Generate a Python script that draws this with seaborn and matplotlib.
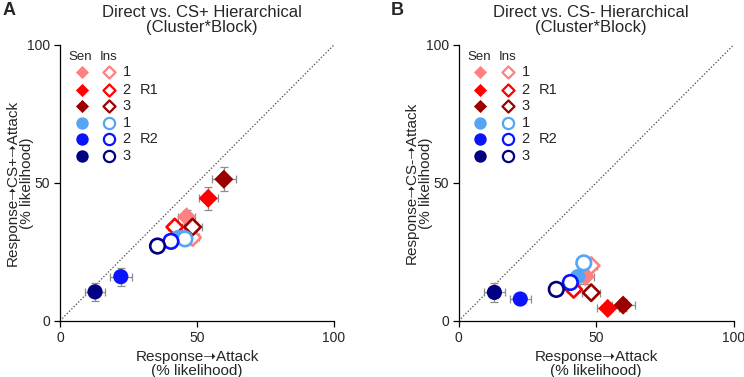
import numpy as np
import pandas as pd
import matplotlib
matplotlib.use("Agg")
import matplotlib.pyplot as plt
import seaborn as sns

sns.set_style("ticks")
plt.rcParams['font.family'] = ['Liberation Sans', 'DejaVu Sans']

# ---------------- data ----------------
blocks = ["1", "2", "3"]
r1_colors = ["#FF8080", "#FF0000", "#9A0000"]
r2_colors = ["#55A5F5", "#0A14FF", "#000080"]

# Panel A: Direct (x) vs CS+ hierarchical (y)
A_r1_sen_x = [46.2, 54.1, 59.8]; A_r1_sen_y = [37.7, 44.4, 51.3]
A_r1_sen_xe = [3.2, 3.5, 4.3];   A_r1_sen_ye = [2.6, 4.1, 4.4]
A_r1_ins_x = [48.4, 41.9, 48.4]; A_r1_ins_y = [30.2, 34.0, 34.0]
A_r1_ins_xe = [2.5, 2.5, 3.3];   A_r1_ins_ye = [1.5, 1.7, 1.7]
A_r2_sen_x = [43.1, 22.2, 12.8]; A_r2_sen_y = [30.2, 16.0, 10.5]
A_r2_sen_xe = [2.5, 4.0, 3.8];   A_r2_sen_ye = [1.5, 3.3, 3.3]
A_r2_ins_x = [45.6, 40.5, 35.6]; A_r2_ins_y = [29.7, 28.8, 27.1]
A_r2_ins_xe = [1.5, 2.0, 2.0];   A_r2_ins_ye = [1.0, 1.5, 2.0]

# Panel B: Direct (x) vs CS- hierarchical (y)
B_r1_sen_x = [46.1, 54.2, 59.8]; B_r1_sen_y = [16.0, 4.5, 5.7]
B_r1_sen_xe = [3.0, 4.0, 4.2];   B_r1_sen_ye = [2.5, 1.3, 2.2]
B_r1_ins_x = [48.2, 41.8, 48.2]; B_r1_ins_y = [20.0, 11.4, 10.2]
B_r1_ins_xe = [2.0, 2.5, 3.3];   B_r1_ins_ye = [1.5, 1.5, 1.5]
B_r2_sen_x = [43.3, 22.4, 13.0]; B_r2_sen_y = [16.0, 7.9, 10.3]
B_r2_sen_xe = [2.5, 3.9, 3.9];   B_r2_sen_ye = [2.5, 1.2, 3.3]
B_r2_ins_x = [45.5, 40.6, 35.5]; B_r2_ins_y = [21.0, 13.9, 11.4]
B_r2_ins_xe = [1.5, 2.0, 2.0];   B_r2_ins_ye = [1.0, 1.5, 1.5]

ARROW = "\u279D"

panels = [
    dict(letter="A", title="Direct vs. CS+ Hierarchical\n(Cluster*Block)", title_x=0.518,
         ylabel=f"Response{ARROW}CS+{ARROW}Attack\n(% likelihood)",
         groups=[(A_r1_sen_x, A_r1_sen_y, A_r1_sen_xe, A_r1_sen_ye, "D", True, r1_colors),
                 (A_r1_ins_x, A_r1_ins_y, A_r1_ins_xe, A_r1_ins_ye, "D", False, r1_colors),
                 (A_r2_sen_x, A_r2_sen_y, A_r2_sen_xe, A_r2_sen_ye, "o", True, r2_colors),
                 (A_r2_ins_x, A_r2_ins_y, A_r2_ins_xe, A_r2_ins_ye, "o", False, r2_colors)]),
    dict(letter="B", title="Direct vs. CS- Hierarchical\n(Cluster*Block)", title_x=0.482,
         ylabel=f"Response{ARROW}CS-{ARROW}Attack\n(% likelihood)",
         groups=[(B_r1_sen_x, B_r1_sen_y, B_r1_sen_xe, B_r1_sen_ye, "D", True, r1_colors),
                 (B_r1_ins_x, B_r1_ins_y, B_r1_ins_xe, B_r1_ins_ye, "D", False, r1_colors),
                 (B_r2_sen_x, B_r2_sen_y, B_r2_sen_xe, B_r2_sen_ye, "o", True, r2_colors),
                 (B_r2_ins_x, B_r2_ins_y, B_r2_ins_xe, B_r2_ins_ye, "o", False, r2_colors)]),
]

fig = plt.figure(figsize=(7.44, 3.77), dpi=100)
axes_pos = [[0.0806, 0.149, 0.3683, 0.732], [0.6165, 0.149, 0.3696, 0.732]]
letter_x = [0.004, 0.525]

for p, pos, lx in zip(panels, axes_pos, letter_x):
    ax = fig.add_axes(pos)
    ax.plot([0, 100], [0, 100], ls=(0, (1, 1.6)), color="#444444", lw=0.9, zorder=1)

    for gx, gy, gxe, gye, mk, filled, cols in p["groups"]:
        ax.errorbar(gx, gy, xerr=gxe, yerr=gye, fmt="none", ecolor="#8C8C8C",
                    elinewidth=0.9, capsize=2.8, capthick=0.9, zorder=2)
    for gx, gy, gxe, gye, mk, filled, cols in p["groups"]:
        df = pd.DataFrame({"x": gx, "y": gy, "block": blocks})
        sns.scatterplot(data=df, x="x", y="y", hue="block", palette=cols,
                        marker=mk, s=95 if mk == "D" else 120, linewidth=0,
                        legend=False, ax=ax, zorder=3)
        coll = ax.collections[-1]
        if filled:
            coll.set_edgecolors(cols)
            coll.set_linewidths(0)
        else:
            coll.set_facecolors("white")
            coll.set_edgecolors(cols)
            coll.set_linewidths(1.9)
            coll.set_sizes([70 if mk == "D" else 110])

    ax.set_xlim(0, 100)
    ax.set_ylim(0, 100)
    ax.set_xticks([0, 50, 100])
    ax.set_yticks([0, 50, 100])
    ax.tick_params(axis="both", labelsize=10, length=4, width=0.9, color="black", pad=3)
    for s in ["left", "bottom"]:
        ax.spines[s].set_linewidth(0.9)
        ax.spines[s].set_color("black")
    sns.despine(ax=ax)
    ax.set_xlabel(f"Response{ARROW}Attack\n(% likelihood)", fontsize=11, linespacing=1.0, labelpad=4)
    ax.set_ylabel(p["ylabel"], fontsize=11, linespacing=1.0)
    ax.yaxis.set_label_coords(-0.095, 0.5)
    ax.set_title(p["title"], fontsize=12, linespacing=1.05, pad=9, x=p["title_x"])
    fig.text(lx, 0.995, p["letter"], fontsize=13, fontweight="bold", va="top", ha="left")

    # legend (drawn in axes coordinates)
    T = ax.transAxes
    ax.text(0.073, 0.956, "Sen", transform=T, fontsize=9.5, ha="center", va="center")
    ax.text(0.179, 0.956, "Ins", transform=T, fontsize=9.5, ha="center", va="center")
    rows = [0.900, 0.837, 0.779, 0.718, 0.658, 0.598]
    leg_cols = r1_colors + r2_colors
    for i, (ry, c) in enumerate(zip(rows, leg_cols)):
        mk = "D" if i < 3 else "o"
        ax.scatter([0.079], [ry], transform=T, marker=mk, s=45 if mk == "D" else 80,
                   color=c, linewidths=0, clip_on=False, zorder=4)
        ax.scatter([0.180], [ry], transform=T, marker=mk, s=38 if mk == "D" else 65,
                   facecolors="white", edgecolors=c, linewidths=1.6, clip_on=False, zorder=4)
        ax.text(0.243, ry, blocks[i % 3], transform=T, fontsize=10.5, ha="center", va="center")
    ax.text(0.29, rows[1], "R1", transform=T, fontsize=10.5, ha="left", va="center")
    ax.text(0.29, rows[4], "R2", transform=T, fontsize=10.5, ha="left", va="center")

fig.savefig("out.png", dpi=100)
